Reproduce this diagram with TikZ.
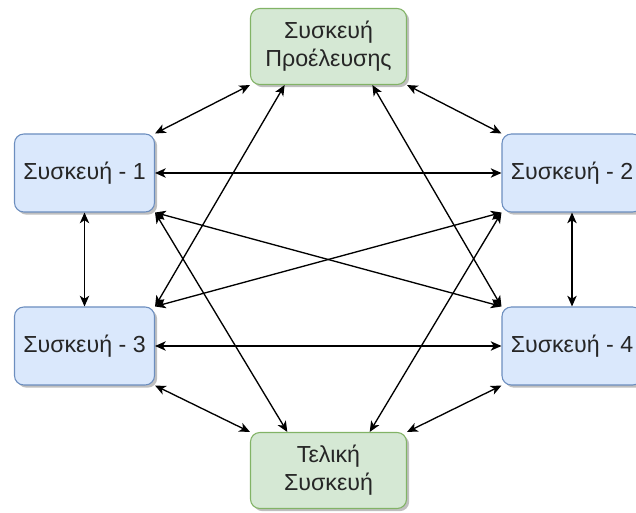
\documentclass[tikz,border=0pt]{standalone}
\usepackage{fontspec}
\setmainfont{Liberation Sans}
\usetikzlibrary{arrows.meta,shadows}

\definecolor{devfill}{HTML}{DAE8FC}
\definecolor{devline}{HTML}{6C8EBF}
\definecolor{endfill}{HTML}{D5E8D4}
\definecolor{endline}{HTML}{82B366}

\begin{document}
\begin{tikzpicture}[x=0.75pt, y=-0.75pt,
  dev/.style={draw=devline, fill=devfill, rounded corners=7pt, line width=0.8pt,
    minimum width=105pt, minimum height=58.5pt, align=center,
    font=\fontsize{17.4}{21}\selectfont, text=black!85,
    drop shadow={shadow xshift=2pt, shadow yshift=-2pt, fill=black, opacity=0.25}},
  endp/.style={dev, draw=endline, fill=endfill, minimum width=117pt, minimum height=57pt},
  link/.style={{Stealth[length=8pt, width=7pt, inset=2.2pt]}-{Stealth[length=8pt, width=7pt, inset=2.2pt]}, line width=1pt}]
  \useasboundingbox (0,0) rectangle (636,513);
  \clip (0,0) rectangle (636,513);

  % devices
  \node[endp] (src) at (328.5,46.5) {Συσκευή\\Προέλευσης};
  \node[dev] (d1) at (84.5,173) {Συσκευή - 1};
  \node[dev] (d2) at (572,173) {Συσκευή - 2};
  \node[dev] (d3) at (84.5,346) {Συσκευή - 3};
  \node[dev] (d4) at (572,346) {Συσκευή - 4};
  \node[endp] (dst) at (328.5,470.5) {Τελική\\Συσκευή};

  % ring
  \draw[link] (d1.north east) -- (src.south west);
  \draw[link] (src.south east) -- (d2.north west);
  \draw[link] (d1.south) -- (d3.north);
  \draw[link] (d2.south) -- (d4.north);
  \draw[link] (d3.south east) -- (dst.north west);
  \draw[link] (d4.south west) -- (dst.north east);

  % across
  \draw[link] (d1.east) -- (d2.west);
  \draw[link] (d3.east) -- (d4.west);
  \draw[link] ([xshift=26pt]src.south west) -- (d3.north east);
  \draw[link] ([xshift=-26pt]src.south east) -- (d4.north west);
  \draw[link] (d1.south east) -- ([xshift=28pt]dst.north west);
  \draw[link] (d2.south west) -- ([xshift=-28pt]dst.north east);
  \draw[link] (d1.south east) -- (d4.north west);
  \draw[link] (d3.north east) -- (d2.south west);
\end{tikzpicture}
\end{document}
